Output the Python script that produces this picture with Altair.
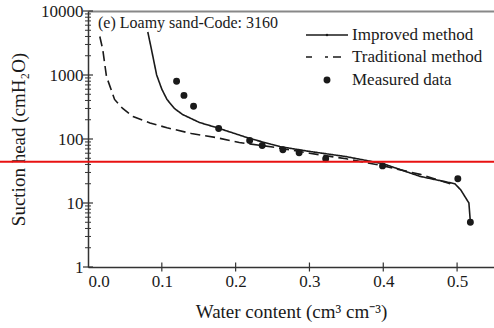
import altair as alt
import pandas as pd

# Series names shown in the legend
series_names = ["Improved method", "Traditional method", "Measured data"]

# Improved method curve: water content vs suction head (cmH2O)
improved_theta = [0.081, 0.086, 0.093, 0.100, 0.107, 0.117, 0.128, 0.151, 0.174, 0.219,
                  0.260, 0.300, 0.350, 0.400, 0.450, 0.497, 0.505, 0.516, 0.518]
improved_head = [4700, 2500, 1000, 600, 415, 300, 242, 181, 151, 102,
                 76, 64, 53, 41, 26, 20, 16, 10, 5]

# Traditional method curve
traditional_theta = [0.016, 0.020, 0.025, 0.036, 0.047, 0.061, 0.084, 0.107, 0.140, 0.174,
                     0.205, 0.250, 0.300, 0.350, 0.400, 0.450, 0.497]
traditional_head = [4000, 2500, 950, 415, 300, 225, 178, 150, 122, 105,
                    88, 75, 60, 49, 38, 28, 19]

# Measured data points
measured_theta = [0.120, 0.130, 0.143, 0.177, 0.219, 0.236, 0.264, 0.286, 0.322, 0.399, 0.501, 0.518]
measured_head = [800, 480, 325, 146, 95, 79, 68, 61, 49, 38, 24, 5]

# Reference level drawn across the figure
reference_head = 44

# Axis tick values
x_ticks = [0.0, 0.1, 0.2, 0.3, 0.4, 0.5]
y_major = [1, 10, 100, 1000, 10000]
y_minor = [m * d for d in [1, 10, 100, 1000] for m in range(2, 10)]

W, H = 406, 256
FONT = "Liberation Serif"
INK = "#1a1a1a"
X_MAX = 0.55

curves = pd.concat([
    pd.DataFrame({"theta": improved_theta, "head": improved_head, "series": series_names[0]}),
    pd.DataFrame({"theta": traditional_theta, "head": traditional_head, "series": series_names[1]}),
])
points = pd.DataFrame({"theta": measured_theta, "head": measured_head})

xscale = alt.Scale(domain=[0, X_MAX], nice=False, zero=False)
yscale = alt.Scale(type="log", domain=[1, 10000], nice=False)
dash_scale = alt.Scale(domain=series_names[:2], range=[[1, 0], [10, 5]])

x_axis = alt.Axis(values=x_ticks, format=".1f", title="Water content (cm³ cm⁻³)",
                  labelFont=FONT, labelFontSize=17, labelColor=INK, labelPadding=6,
                  titleFont=FONT, titleFontSize=19, titleFontWeight="normal", titleColor=INK,
                  titlePadding=13, tickSize=0, grid=False, domainColor="#333", domainWidth=1.5)
# The grid line at the top decade doubles as the upper frame edge
y_axis = alt.Axis(values=y_major, format="d", title="Suction head (cmH₂O)",
                  labelFont=FONT, labelFontSize=17, labelColor=INK, labelPadding=5,
                  titleFont=FONT, titleFontSize=19, titleFontWeight="normal", titleColor=INK,
                  titlePadding=12, tickSize=0, domainColor="#333", domainWidth=1.5,
                  grid=True, gridWidth=2,
                  gridColor={"condition": {"test": "datum.value >= 10000", "value": "#888888"},
                             "value": "transparent"})

lines = alt.Chart(curves).mark_line(color=INK, strokeWidth=1.6).encode(
    x=alt.X("theta:Q", scale=xscale, axis=x_axis),
    y=alt.Y("head:Q", scale=yscale, axis=y_axis),
    strokeDash=alt.StrokeDash("series:N", scale=dash_scale, legend=None),
    detail="series:N",
)

pts = alt.Chart(points).mark_circle(color=INK, size=48, opacity=1).encode(
    x=alt.X("theta:Q", scale=xscale),
    y=alt.Y("head:Q", scale=yscale),
)

# Inward tick marks along the left and bottom axes
ymaj = alt.Chart(pd.DataFrame({"tick": y_major})).mark_tick(
    orient="horizontal", color="#333", size=10, thickness=1.2, opacity=1).encode(
    y=alt.Y("tick:Q", scale=yscale), x=alt.value(0))
ymin = alt.Chart(pd.DataFrame({"tick": y_minor})).mark_tick(
    orient="horizontal", color="#333", size=6, thickness=1, opacity=1).encode(
    y=alt.Y("tick:Q", scale=yscale), x=alt.value(0))
xmaj = alt.Chart(pd.DataFrame({"tick": x_ticks[1:]})).mark_tick(
    orient="vertical", color="#333", size=9, thickness=1.2, opacity=1).encode(
    x=alt.X("tick:Q", scale=xscale), y=alt.value(H))

# Panel label
label = alt.Chart(pd.DataFrame({"t": ["(e) Loamy sand-Code: 3160"]})).mark_text(
    align="left", baseline="middle", font=FONT, fontSize=16, color=INK).encode(
    text="t:N", x=alt.value(10), y=alt.value(12))

# Legend: sample marks and labels in the upper right corner
row_y = [24, 46, 69]
leg_solid = alt.Chart(pd.DataFrame({"s": [series_names[0]]})).mark_rule(
    color=INK, strokeWidth=1.6).encode(x=alt.value(218), x2=alt.value(260), y=alt.value(row_y[0]))
leg_solid_dot = alt.Chart(pd.DataFrame({"s": [series_names[0]]})).mark_circle(
    color=INK, size=6, opacity=1).encode(x=alt.value(239), y=alt.value(row_y[0]))
leg_dash = alt.Chart(pd.DataFrame({"s": [series_names[1]]})).mark_rule(
    color=INK, strokeWidth=1.6, strokeDash=[6, 13, 3, 5, 8, 60]).encode(
    x=alt.value(218), x2=alt.value(253), y=alt.value(row_y[1]))
leg_dot = alt.Chart(pd.DataFrame({"s": [series_names[2]]})).mark_circle(
    color=INK, size=48, opacity=1).encode(x=alt.value(239), y=alt.value(row_y[2]))
leg_text = alt.Chart(pd.DataFrame({"s": series_names, "y": row_y})).mark_text(
    align="left", baseline="middle", font=FONT, fontSize=17, color=INK).encode(
    text="s:N", x=alt.value(264), y=alt.Y("y:Q", scale=None))

# Red horizontal reference line spanning the figure
ref = alt.Chart(pd.DataFrame({"h": [reference_head]})).mark_rule(
    color="#e81212", strokeWidth=2, clip=False).encode(
    y=alt.Y("h:Q", scale=yscale), x=alt.value(-88), x2=alt.value(W + 10))

chart = alt.layer(
    lines, ymaj, ymin, xmaj, pts, label,
    leg_solid, leg_solid_dot, leg_dash, leg_dot, leg_text, ref
).properties(
    width=W, height=H,
    autosize=alt.AutoSizeParams(type="none"),
    padding={"left": 88, "top": 11, "right": 0, "bottom": 61},
).configure_view(stroke=None).configure(background="white", font=FONT)

chart.save("out.html", embed_options={"renderer": "svg", "actions": False})
